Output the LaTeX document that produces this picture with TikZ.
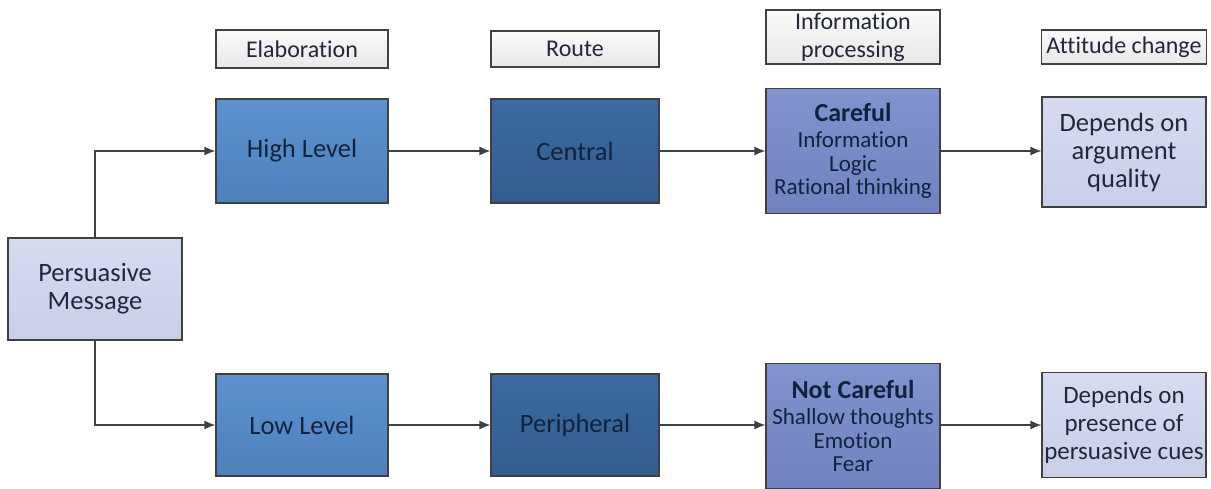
\documentclass[tikz,border=0pt]{standalone}
\usepackage{fontspec}
\setmainfont{Carlito}[Ligatures=NoCommon]
\usetikzlibrary{arrows.meta}

\definecolor{c1}{RGB}{214,219,240}
\definecolor{c1b}{RGB}{200,207,232}
\definecolor{c2}{RGB}{92,146,206}
\definecolor{c2b}{RGB}{78,128,188}
\definecolor{c3}{RGB}{60,107,160}
\definecolor{c3b}{RGB}{50,92,142}
\definecolor{c4}{RGB}{130,146,206}
\definecolor{c4b}{RGB}{114,130,192}
\definecolor{hd}{RGB}{250,250,250}
\definecolor{hdb}{RGB}{232,232,232}
\definecolor{ln}{RGB}{64,64,64}
\definecolor{txt}{RGB}{34,40,56}
\definecolor{txtd}{RGB}{18,34,62}

\begin{document}
\begin{tikzpicture}[x=1pt,y=-1pt,
    box/.style={draw=ln,line width=1.2pt,align=center,inner sep=0pt,
      minimum width=172pt,minimum height=104pt,font=\fontsize{26.5}{28}\selectfont},
    lightbox/.style={box,top color=c1,bottom color=c1b,text=txt},
    midbox/.style={box,top color=c2,bottom color=c2b,text=txtd},
    darkbox/.style={box,top color=c3,bottom color=c3b,text=txtd,minimum width=168pt},
    procbox/.style={box,top color=c4,bottom color=c4b,text=txtd,minimum width=174pt,
      minimum height=125pt,font=\fontsize{23}{23.5}\selectfont},
    headbox/.style={draw=ln,line width=1.2pt,align=center,inner sep=0pt,text=txt,
      top color=hd,bottom color=hdb,font=\fontsize{24}{28}\selectfont},
    arr/.style={draw=ln,line width=1.3pt,arrows={-{Latex[length=11pt,width=9pt]}}}]

      \useasboundingbox (0,0) rectangle (1211,488);

      % column headers
      \node[headbox,minimum width=172pt,minimum height=38pt] (elab) at (302,49) {Elaboration};
      \node[headbox,minimum width=168pt,minimum height=36pt] (route) at (575,49) {Route};
      \node[headbox,minimum width=174pt,minimum height=54pt] (info) at (853,37) {Information\\processing};
      \node[headbox,minimum width=165pt,minimum height=34pt] (att) at (1124,47) {Attitude change};

      \node[lightbox,minimum width=174pt,minimum height=102pt] (msg) at (95,289) {Persuasive\\Message};

      % upper row
      \node[midbox] (high) at (302,151) {High Level};
      \node[darkbox] (central) at (575,151) {Central};
      \node[procbox] (careful) at (853,151) {{\bfseries\fontsize{26}{28}\selectfont Careful}\\[3pt]Information\\Logic\\Rational thinking};
      \node[lightbox,minimum width=164pt,minimum height=110pt] (arg) at (1124,152) {Depends on\\argument\\quality};

      % lower row
      \node[midbox,minimum height=102pt] (low) at (302,425) {Low Level};
      \node[darkbox,minimum height=102pt] (periph) at (575,425) {Peripheral};
      \node[procbox] (notcareful) at (853,426) {{\bfseries\fontsize{26}{28}\selectfont Not Careful}\\[3pt]Shallow thoughts\\Emotion\\Fear};
      \node[lightbox,minimum width=164pt,minimum height=105pt,font=\fontsize{25}{28}\selectfont] (cues) at (1124,425) {Depends on\\presence of\\persuasive cues};

      \draw[arr] (msg.north) |- (high.west);
      \draw[arr] (msg.south) |- (low.west);

      \draw[arr] (high) -- (central);
      \draw[arr] (central) -- (careful);
      \draw[arr] (careful.east) -- (careful.east -| arg.west);

      \draw[arr] (low) -- (periph);
      \draw[arr] (periph.east) -- (periph.east -| notcareful.west);
      \draw[arr] (periph.east -| notcareful.east) -- (cues.west);

\end{tikzpicture}
\end{document}
